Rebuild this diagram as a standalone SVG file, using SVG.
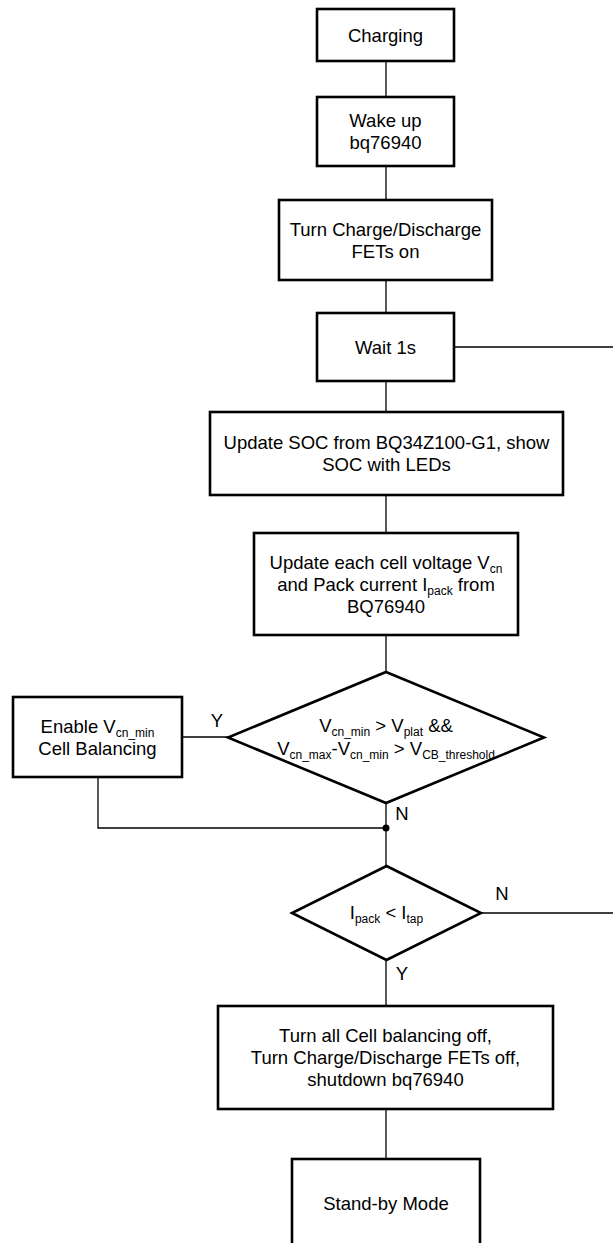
<svg xmlns="http://www.w3.org/2000/svg" width="613" height="1243" viewBox="0 0 613 1243">
<style>
.box{fill:#fff;stroke:#000;stroke-width:2.6}
.dia{fill:#fff;stroke:#000;stroke-width:2.6;stroke-linejoin:miter}
.ln{fill:none;stroke:#000;stroke-width:1.3}
text{font-family:"Liberation Sans",Arial,sans-serif;font-size:18.5px;fill:#000}
.t{text-anchor:middle}
.s{font-size:12px}
</style>
<rect width="613" height="1243" fill="#fff"/>
<g id="connectors">
<path class="ln" d="M386 61V97M386 166V200M386 280V313M386 381V412M386 495V533M386 635V672M386 803V866M386 960V1006M386 1109V1159"/>
<path class="ln" d="M454 347H613"/>
<path class="ln" d="M481 913H613"/>
<path class="ln" d="M182 737H228"/>
<path class="ln" d="M98 777V828H386"/>
<circle cx="386" cy="828" r="3.5" fill="#000"/>
<text class="t" x="217" y="726.6">Y</text>
<text class="t" x="402" y="819.6">N</text>
<text class="t" x="502" y="899.6">N</text>
<text class="t" x="402" y="979.6">Y</text>
</g>
<g id="charging">
<rect class="box" x="317" y="9" width="137" height="52"/>
<text class="t" x="385.5" y="41.6">Charging</text>
</g>
<g id="wakeup">
<rect class="box" x="317" y="97" width="137" height="69"/>
<text class="t" x="385.5" y="127">Wake up</text>
<text class="t" x="385.5" y="149">bq76940</text>
</g>
<g id="fets-on">
<rect class="box" x="279" y="200" width="213" height="80"/>
<text class="t" x="385.5" y="235.6">Turn Charge/Discharge</text>
<text class="t" x="385.5" y="257.6">FETs on</text>
</g>
<g id="wait">
<rect class="box" x="317" y="313" width="137" height="68"/>
<text class="t" x="385.5" y="353.6">Wait 1s</text>
</g>
<g id="update-soc">
<rect class="box" x="210" y="412" width="353" height="83"/>
<text class="t" x="386.5" y="449">Update SOC from BQ34Z100-G1, show</text>
<text class="t" x="386.5" y="471">SOC with LEDs</text>
</g>
<g id="update-cell">
<rect class="box" x="254" y="533" width="264" height="102"/>
<text class="t" x="386" y="568.5">Update each cell voltage V<tspan class="s" dy="4">cn</tspan></text>
<text class="t" x="386" y="590.5">and Pack current I<tspan class="s" dy="4">pack</tspan><tspan dy="-4"> from</tspan></text>
<text class="t" x="386" y="612.5">BQ76940</text>
</g>
<g id="decision-balance">
<polygon class="dia" points="386,672 544,737.5 386,803 228,737.5"/>
<text class="t" x="386" y="732">V<tspan class="s" dy="3.5">cn_min</tspan><tspan dy="-3.5"> &gt; V</tspan><tspan class="s" dy="3.5">plat</tspan><tspan dy="-3.5"> &amp;&amp;</tspan></text>
<text class="t" x="386" y="755">V<tspan class="s" dy="3.5">cn_max</tspan><tspan dy="-3.5">-V</tspan><tspan class="s" dy="3.5">cn_min</tspan><tspan dy="-3.5"> &gt; V</tspan><tspan class="s" dy="3.5">CB_threshold</tspan></text>
</g>
<g id="enable-balance">
<rect class="box" x="13" y="697" width="169" height="80"/>
<text class="t" x="97.5" y="732.6">Enable V<tspan class="s" dy="4">cn_min</tspan></text>
<text class="t" x="97.5" y="754.6">Cell Balancing</text>
</g>
<g id="decision-current">
<polygon class="dia" points="386.5,866 481,913 386.5,960 292,913"/>
<text class="t" x="386.5" y="919">I<tspan class="s" dy="4">pack</tspan><tspan dy="-4"> &lt; I</tspan><tspan class="s" dy="4">tap</tspan></text>
</g>
<g id="shutdown">
<rect class="box" x="218" y="1006" width="335" height="103"/>
<text class="t" x="385.5" y="1041.6">Turn all Cell balancing off,</text>
<text class="t" x="385.5" y="1063.6">Turn Charge/Discharge FETs off,</text>
<text class="t" x="385.5" y="1086">shutdown bq76940</text>
</g>
<g id="standby">
<rect class="box" x="292" y="1159" width="188" height="100"/>
<text class="t" x="386" y="1209.6">Stand-by Mode</text>
</g>
</svg>
